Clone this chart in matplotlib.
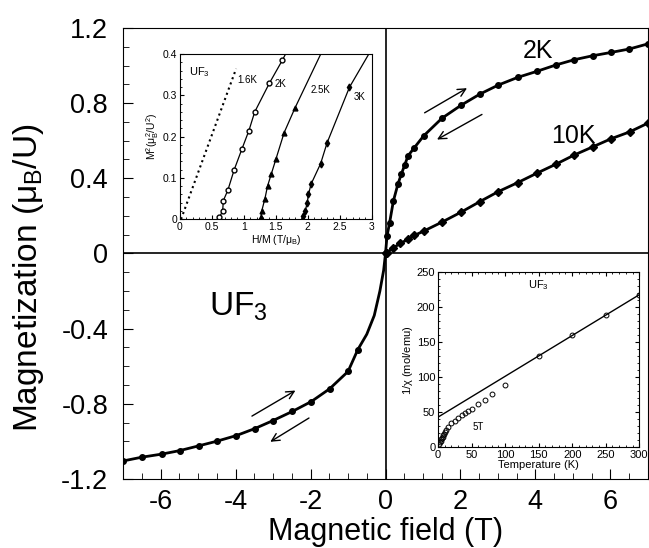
import matplotlib
matplotlib.use("Agg")
import matplotlib.pyplot as plt
from matplotlib.ticker import MultipleLocator
import numpy as np

plt.rcParams['font.family'] = ['Liberation Sans', 'DejaVu Sans']
plt.rcParams['mathtext.fontset'] = 'custom'
plt.rcParams['mathtext.rm'] = 'Liberation Sans'
plt.rcParams['mathtext.it'] = 'Liberation Sans'

# main panel: M(H) at 2K (positive and negative branches) and 10K
h_2k_pos = [0.0, 0.04, 0.11, 0.21, 0.33, 0.42, 0.51, 0.60, 0.77, 1.02, 1.51, 2.02,
            2.52, 3.01, 3.53, 4.04, 4.55, 5.04, 5.53, 6.03, 6.51, 7.0]
m_2k_pos = [0.0, 0.092, 0.164, 0.279, 0.368, 0.421, 0.469, 0.519, 0.563, 0.626, 0.72, 0.789,
            0.848, 0.896, 0.937, 0.969, 1.003, 1.031, 1.052, 1.07, 1.088, 1.115]
h_2k_neg = [-7.0, -6.5, -5.98, -5.49, -4.99, -4.5, -3.98, -3.49, -3.0, -2.49, -1.98,
            -1.49, -1.0, -0.74, -0.5, -0.3, -0.15, -0.05, 0.0]
m_2k_neg = [-1.104, -1.084, -1.068, -1.049, -1.024, -0.999, -0.969, -0.932, -0.889, -0.841,
            -0.788, -0.72, -0.628, -0.512, -0.43, -0.33, -0.2, -0.09, 0.0]
h_10k = [0.0, 0.04, 0.21, 0.39, 0.60, 0.77, 1.02, 1.51, 2.02, 2.52, 3.01, 3.53, 4.04,
         4.55, 5.04, 5.53, 6.03, 6.52, 7.0]
m_10k = [0.0, 0.004, 0.03, 0.053, 0.075, 0.096, 0.119, 0.167, 0.22, 0.276, 0.329, 0.377,
         0.427, 0.475, 0.524, 0.567, 0.611, 0.647, 0.693]

# inset 1: Arrott plot M^2 vs H/M
hm_16k = [0.02, 0.88]
m2_16k = [0.0, 0.365]
hm_2k = [0.62, 0.67, 0.68, 0.75, 0.85, 0.97, 1.08, 1.17, 1.40, 1.60, 1.65]
m2_2k = [0.005, 0.02, 0.045, 0.07, 0.12, 0.17, 0.215, 0.26, 0.33, 0.385, 0.40]
hm_25k = [1.25, 1.27, 1.28, 1.33, 1.37, 1.43, 1.50, 1.63, 1.80, 2.20]
m2_25k = [0.0, 0.005, 0.02, 0.05, 0.08, 0.11, 0.145, 0.21, 0.27, 0.40]
hm_3k = [1.92, 1.93, 1.96, 1.99, 2.01, 2.05, 2.20, 2.30, 2.65, 2.95]
m2_3k = [0.0, 0.007, 0.02, 0.04, 0.06, 0.085, 0.135, 0.185, 0.32, 0.40]

# inset 2: inverse susceptibility at 5T
temp = [2, 3, 4, 5, 6, 7, 8, 9, 10, 12, 15, 20, 25, 30, 35, 40, 45, 50, 60, 70, 80,
        100, 150, 200, 250, 300]
inv_chi = [5, 7, 9, 11, 13, 15, 17, 19, 21, 25, 29, 34, 38, 42, 46, 49, 52, 55, 62,
           68, 76, 89, 130, 160, 189, 218]
fit_t = [0, 300]
fit_chi = [43, 218]

fig = plt.figure(figsize=(6.49, 5.48), dpi=100)
ax = fig.add_axes([0.19, 0.126, 0.808, 0.823])

ax.plot(h_2k_pos, m_2k_pos, '-', color='black', lw=2, marker='o', ms=4)
ax.plot(h_2k_neg, m_2k_neg, '-', color='black', lw=2, marker='o', ms=4, markevery=list(range(14)))
ax.plot(h_10k, m_10k, '-', color='black', lw=2, marker='D', ms=4.5)
ax.axhline(0, color='black', lw=1.2)
ax.axvline(0, color='black', lw=1.2)

ax.set_xlim(-7, 7)
ax.set_ylim(-1.2, 1.2)
ax.set_xticks([-6, -4, -2, 0, 2, 4, 6])
ax.set_xticklabels(['-6', '-4', '-2', '0', '2', '4', '6'])
ax.set_yticks([-1.2, -0.8, -0.4, 0, 0.4, 0.8, 1.2])
ax.set_yticklabels(['-1.2', '-0.8', '-0.4', '0', '0.4', '0.8', '1.2'])
ax.xaxis.set_minor_locator(MultipleLocator(0.5))
ax.yaxis.set_minor_locator(MultipleLocator(0.1))
ax.tick_params(which='both', direction='in', labelsize=19.5)
ax.tick_params(which='major', length=7)
ax.tick_params(axis='x', which='major', pad=7)
ax.tick_params(axis='y', which='major', pad=11)
ax.tick_params(which='minor', length=4)
ax.set_xlabel('Magnetic field (T)', fontsize=22)
ax.set_ylabel(r'Magnetization ($\mu_B$/U)', fontsize=24)
ax.xaxis.set_label_coords(0.5, -0.085)
ax.yaxis.set_label_coords(-0.148, 0.446)

ax.text(3.66, 1.04, '2K', fontsize=18)
ax.text(4.42, 0.59, '10K', fontsize=18)
ax.text(-4.7, -0.33, r'UF$_3$', fontsize=24)

arw = dict(arrowstyle='->', color='black', lw=1, mutation_scale=14)
ax.annotate('', xy=(2.24, 0.887), xytext=(0.98, 0.741), arrowprops=arw)
ax.annotate('', xy=(1.31, 0.599), xytext=(2.64, 0.747), arrowprops=arw)
ax.annotate('', xy=(-2.34, -0.722), xytext=(-3.63, -0.873), arrowprops=arw)
ax.annotate('', xy=(-3.14, -1.01), xytext=(-1.98, -0.868), arrowprops=arw)

# inset 1
ax1 = fig.add_axes([0.277, 0.600, 0.296, 0.301])
ax1.plot(hm_16k, m2_16k, ':', color='black', lw=1.5)
ax1.plot(hm_2k, m2_2k, '-', color='black', lw=0.9, marker='o', mfc='white', ms=3.5,
         markevery=list(range(10)))
ax1.plot(hm_25k, m2_25k, '-', color='black', lw=0.9, marker='^', ms=3.5,
         markevery=list(range(1, 9)))
ax1.plot(hm_3k, m2_3k, '-', color='black', lw=0.9, marker='d', ms=3.5,
         markevery=list(range(1, 9)))
ax1.set_xlim(0, 3)
ax1.set_ylim(0, 0.4)
ax1.set_xticks([0, 0.5, 1, 1.5, 2, 2.5, 3])
ax1.set_xticklabels(['0', '0.5', '1', '1.5', '2', '2.5', '3'])
ax1.set_yticks([0, 0.1, 0.2, 0.3, 0.4])
ax1.set_yticklabels(['0', '0.1', '0.2', '0.3', '0.4'])
ax1.xaxis.set_minor_locator(MultipleLocator(0.1))
ax1.yaxis.set_minor_locator(MultipleLocator(0.02))
ax1.tick_params(which='both', direction='in', labelsize=7.5, pad=2)
ax1.tick_params(which='major', length=3)
ax1.tick_params(which='minor', length=1.5)
ax1.set_xlabel(r'H/M (T/$\mu_B$)', fontsize=7.5, labelpad=1)
ax1.set_ylabel(r'M$^2$($\mu_B^2$/U$^2$)', fontsize=7.5, labelpad=1)
ax1.text(0.15, 0.35, r'UF$_3$', fontsize=8)
ax1.text(0.9, 0.33, '1.6K', fontsize=7)
ax1.text(1.48, 0.32, '2K', fontsize=7)
ax1.text(2.05, 0.305, '2.5K', fontsize=7)
ax1.text(2.72, 0.29, '3K', fontsize=7)

# inset 2
ax2 = fig.add_axes([0.675, 0.184, 0.310, 0.319])
ax2.plot(fit_t, fit_chi, '-', color='black', lw=1)
ax2.plot(temp, inv_chi, 'o', color='black', mfc='none', ms=3.5, mew=0.7)
ax2.set_xlim(0, 300)
ax2.set_ylim(0, 250)
ax2.set_xticks([0, 50, 100, 150, 200, 250, 300])
ax2.set_yticks([0, 50, 100, 150, 200, 250])
ax2.xaxis.set_minor_locator(MultipleLocator(10))
ax2.yaxis.set_minor_locator(MultipleLocator(10))
ax2.tick_params(which='both', direction='in', labelsize=8, pad=2, top=True, right=True)
ax2.tick_params(which='major', length=3)
ax2.tick_params(which='minor', length=1.5)
ax2.set_xlabel('Temperature (K)', fontsize=8, labelpad=0)
ax2.set_ylabel(r'1/$\chi$ (mol/emu)', fontsize=8, labelpad=1)
ax2.text(150, 228, r'UF$_3$', fontsize=8, ha='center')
ax2.text(52, 25, '5T', fontsize=7)

fig.savefig('out.png', dpi=100)
